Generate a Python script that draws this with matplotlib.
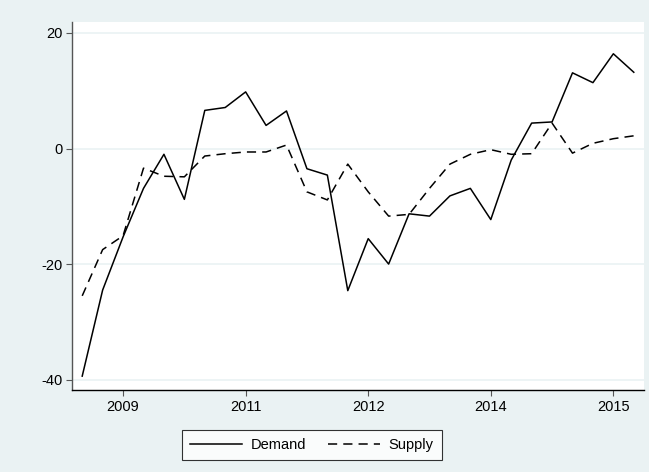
import matplotlib
matplotlib.use("Agg")
import matplotlib.pyplot as plt

plt.rcParams['font.family'] = ['Liberation Sans', 'DejaVu Sans']

# Quarterly data 2009q1 .. 2015q4
quarters = list(range(28))
demand = [-39.4, -24.5, -15.3, -6.9, -1.0, -8.8, 6.6, 7.1, 9.8, 4.0,
          6.5, -3.5, -4.6, -24.6, -15.6, -20.0, -11.3, -11.7, -8.2, -6.9,
          -12.3, -2.0, 4.4, 4.6, 13.1, 11.4, 16.4, 13.2]
supply = [-25.5, -17.5, -15.1, -3.4, -4.8, -4.9, -1.3, -0.9, -0.6, -0.6,
          0.6, -7.5, -8.9, -2.7, -7.5, -11.7, -11.4, -6.9, -2.7, -1.0,
          -0.2, -1.0, -0.9, 4.4, -0.8, 0.9, 1.7, 2.2]
xtick_pos = [2, 8, 14, 20, 26]
xtick_labels = ['2009', '2011', '2012', '2014', '2015']
ytick_vals = [-40, -20, 0, 20]

bg = '#EAF2F3'
fig = plt.figure(figsize=(6.49, 4.72), dpi=100, facecolor=bg)
ax = fig.add_axes([72/649, 1-390/472, (644-72)/649, (390-22)/472])
ax.set_facecolor('white')

ln1, = ax.plot(quarters, demand, color='black', lw=1.1, linestyle='-', label='Demand')
ln2, = ax.plot(quarters, supply, color='black', lw=1.1, linestyle=(0, (6, 4)), label='Supply')

ax.set_xlim(-0.5, 27.5)
ax.set_ylim(-41.8, 21.9)
ax.set_xticks(xtick_pos)
ax.set_xticklabels(xtick_labels)
ax.set_yticks(ytick_vals)
ax.set_yticklabels([str(v) for v in ytick_vals])
ax.grid(axis='y', color=bg, lw=1.2)
ax.set_axisbelow(True)

for s in ['top', 'right']:
    ax.spines[s].set_visible(False)
ax.spines['left'].set_color('#555555')
ax.spines['left'].set_linewidth(1.0)
ax.spines['bottom'].set_color('black')
ax.spines['bottom'].set_linewidth(1.0)
ax.tick_params(axis='both', direction='out', length=4, width=0.8, color='#555555',
               labelsize=10.5, pad=3)

leg = fig.legend(handles=[ln1, ln2], loc='center', bbox_to_anchor=(312/649, 1-445/472),
                 ncol=2, frameon=True, fancybox=False, edgecolor='black',
                 fontsize=10.5, handlelength=3.55, columnspacing=1.5,
                 handletextpad=0.6, borderpad=0.55, borderaxespad=0)
leg.get_frame().set_linewidth(0.8)

fig.savefig('out.png', dpi=100, facecolor=bg)
